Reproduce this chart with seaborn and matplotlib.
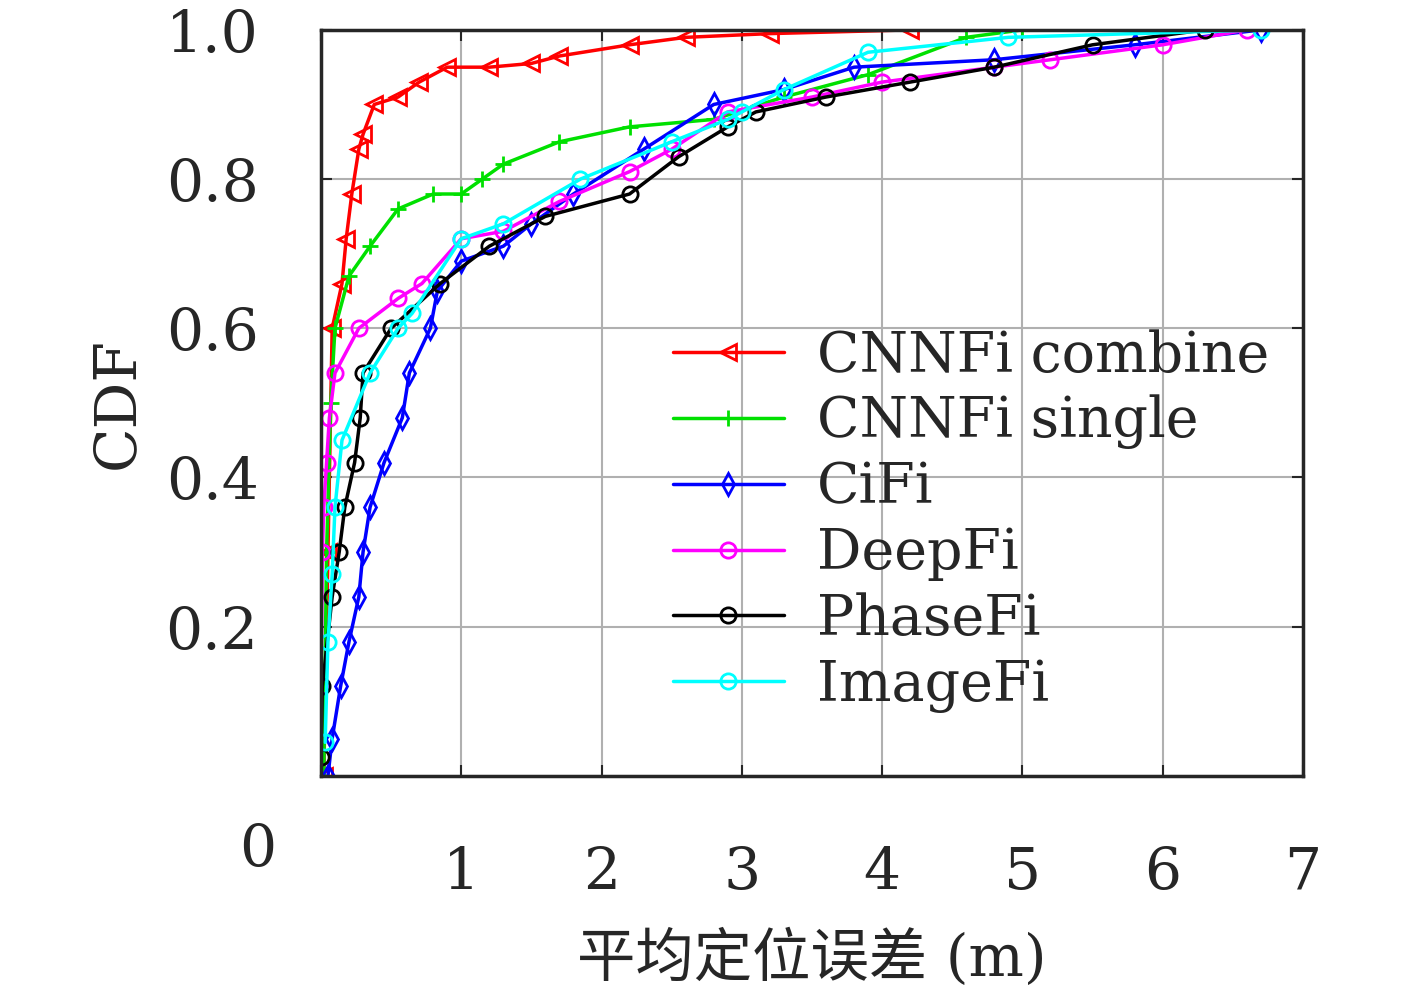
import numpy as np
import pandas as pd
import matplotlib
matplotlib.use("Agg")
import matplotlib.pyplot as plt
import seaborn as sns

# CDF of mean localisation error
names = ['CNNFi combine', 'CNNFi single', 'CiFi', 'DeepFi', 'PhaseFi', 'ImageFi']
colors = ['red', '#00e000', 'blue', 'magenta', 'black', 'cyan']
markers = ['<', '+', 'd', 'o', 'o', 'o']

err_combine = [0.02, 0.05, 0.08, 0.15, 0.18, 0.22, 0.27, 0.3, 0.38, 0.55, 0.7, 0.9, 1.2, 1.5, 1.7, 2.2, 2.6, 3.2, 4.2]
cdf_combine = [0.0, 0.3, 0.6, 0.66, 0.72, 0.78, 0.84, 0.86, 0.9, 0.91, 0.93, 0.95, 0.95, 0.955, 0.965, 0.98, 0.99, 0.995, 1.0]
err_single = [0.02, 0.04, 0.07, 0.1, 0.2, 0.35, 0.55, 0.8, 1.0, 1.15, 1.3, 1.7, 2.2, 2.8, 3.3, 3.9, 4.6, 5.0]
cdf_single = [0.0, 0.3, 0.5, 0.6, 0.67, 0.71, 0.76, 0.78, 0.78, 0.8, 0.82, 0.85, 0.87, 0.88, 0.91, 0.94, 0.99, 1.0]
err_cifi = [0.05, 0.08, 0.14, 0.2, 0.27, 0.3, 0.35, 0.45, 0.58, 0.63, 0.78, 0.83, 1.0, 1.3, 1.5, 1.8, 2.3, 2.8, 3.3, 3.8, 4.8, 5.8, 6.7]
cdf_cifi = [0.0, 0.05, 0.12, 0.18, 0.24, 0.3, 0.36, 0.42, 0.48, 0.54, 0.6, 0.65, 0.69, 0.71, 0.74, 0.78, 0.84, 0.9, 0.92, 0.95, 0.96, 0.98, 1.0]
err_deepfi = [0.0, 0.0, 0.0, 0.01, 0.02, 0.04, 0.06, 0.1, 0.27, 0.55, 0.72, 1.0, 1.3, 1.7, 2.2, 2.5, 2.9, 3.5, 4.0, 4.8, 5.2, 6.0, 6.6]
cdf_deepfi = [0.0, 0.12, 0.24, 0.3, 0.36, 0.42, 0.48, 0.54, 0.6, 0.64, 0.66, 0.72, 0.73, 0.77, 0.81, 0.84, 0.89, 0.91, 0.93, 0.95, 0.96, 0.98, 1.0]
err_phasefi = [0.0, 0.0, 0.01, 0.08, 0.13, 0.17, 0.24, 0.28, 0.3, 0.5, 0.85, 1.2, 1.6, 2.2, 2.55, 2.9, 3.1, 3.6, 4.2, 4.8, 5.5, 6.3]
cdf_phasefi = [0.0, 0.05, 0.12, 0.24, 0.3, 0.36, 0.42, 0.48, 0.54, 0.6, 0.66, 0.71, 0.75, 0.78, 0.83, 0.87, 0.89, 0.91, 0.93, 0.95, 0.98, 1.0]
err_imagefi = [0.03, 0.03, 0.05, 0.08, 0.1, 0.15, 0.35, 0.55, 0.65, 1.0, 1.3, 1.85, 2.5, 2.9, 3.0, 3.3, 3.9, 4.9, 6.7]
cdf_imagefi = [0.0, 0.09, 0.18, 0.27, 0.36, 0.45, 0.54, 0.6, 0.62, 0.72, 0.74, 0.8, 0.85, 0.88, 0.89, 0.92, 0.97, 0.99, 1.0]

errs = [err_combine, err_single, err_cifi, err_deepfi, err_phasefi, err_imagefi]
cdfs = [cdf_combine, cdf_single, cdf_cifi, cdf_deepfi, cdf_phasefi, cdf_imagefi]

sns.set_style('ticks')
plt.rcParams['font.family'] = ['DejaVu Serif', 'Noto Sans CJK SC']

fig = plt.figure(figsize=(14.17, 9.96), dpi=100)
ax = fig.add_axes([0.2265, 0.221, 0.693, 0.749])

for name, c, m, e, p in zip(names, colors, markers, errs, cdfs):
    df = pd.DataFrame({'err': e, 'cdf': p})
    sns.lineplot(data=df, x='err', y='cdf', ax=ax, color=c, lw=2.5,
                 marker=m, markersize=11, markerfacecolor='none', markeredgecolor=c,
                 markeredgewidth=2, label=name, sort=False)

ax.set_xlim(0, 7)
ax.set_ylim(0, 1)
ax.set_xticks(range(0, 8))
ax.set_yticks([0, 0.2, 0.4, 0.6, 0.8, 1.0])
ax.set_xticklabels([''] + [str(i) for i in range(1, 8)])
ax.set_yticklabels(['', '0.2', '0.4', '0.6', '0.8', '1.0'])
ax.text(-0.45, -0.1, '0', fontsize=42, ha='center', va='center')
ax.grid(True, color='#b0b0b0', lw=1.5)
ax.tick_params(direction='in', length=8, width=1.5, labelsize=42, top=True, right=True)
ax.tick_params(axis='x', pad=50)
ax.tick_params(axis='y', pad=45)
for s in ax.spines.values():
    s.set_linewidth(2.5)
ax.set_xlabel('平均定位误差 (m)', fontsize=42, labelpad=20)
ax.set_ylabel('CDF', fontsize=42, labelpad=15)
leg = ax.legend(loc='lower right', bbox_to_anchor=(1.0, 0.04), fontsize=40, frameon=False,
                handlelength=2.0, handletextpad=0.6, labelspacing=0.2, borderaxespad=0.2)
fig.savefig('out.png', dpi=100)
